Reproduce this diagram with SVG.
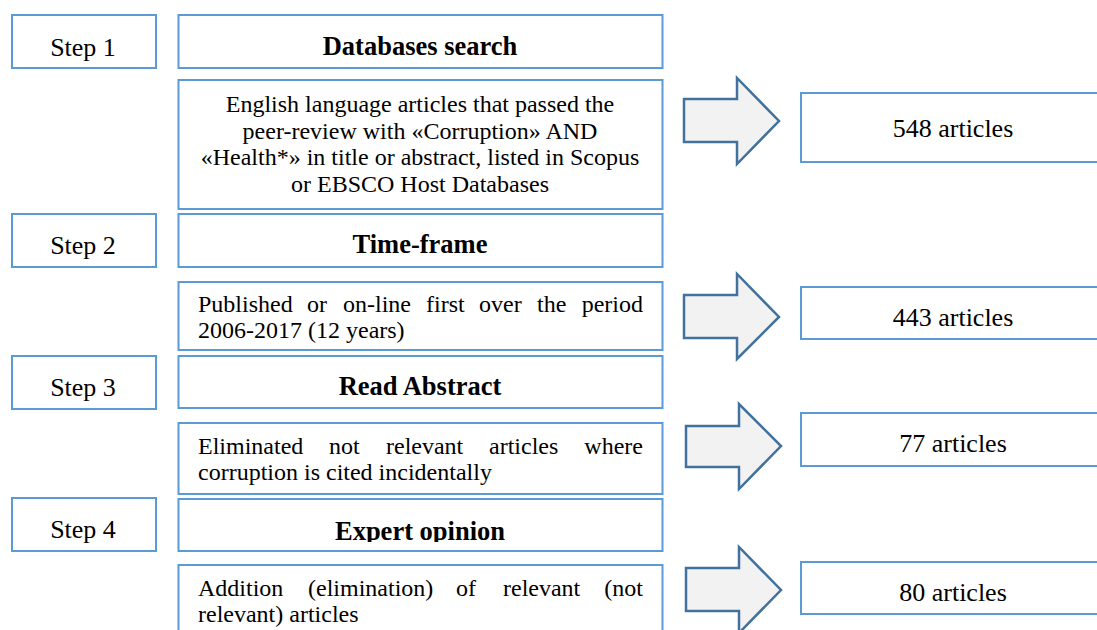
<svg xmlns="http://www.w3.org/2000/svg" width="1097" height="630" viewBox="0 0 1097 630" font-family="Liberation Serif, serif">
<style>
.box{fill:#ffffff;stroke:#5b9bd5;stroke-width:2}
.arr{fill:#f2f2f2;stroke:#41719c;stroke-width:2.5;stroke-linejoin:miter}
text{fill:#000}
.lbl{font-size:26px;text-anchor:middle}
.hd{font-size:26.5px;font-weight:bold;text-anchor:middle}
.bd{font-size:24px}
.c{text-anchor:middle}
.e{text-anchor:end}
.num{font-size:26px;text-anchor:middle}
</style>
<defs>
<clipPath id="clipExp"><rect x="178" y="498" width="484" height="44"/></clipPath>
<clipPath id="clipPub"><rect x="178" y="282" width="484" height="62"/></clipPath>
</defs>
<rect width="1097" height="630" fill="#ffffff"/>

<g id="step1"><rect class="box" x="12" y="15" width="144" height="53"/><text class="lbl" x="83" y="56" font-family="Liberation Serif">Step 1</text></g>
<g id="db-search"><rect class="box" x="178.5" y="15" width="484" height="53"/><text class="hd" x="420" y="55" font-family="Liberation Serif">Databases search</text></g>
<g id="db-desc" font-family="Liberation Serif"><rect class="box" x="178.5" y="80" width="484" height="129"/>
<text class="bd c" x="420" y="112">English language articles that passed the</text>
<text class="bd c" x="420" y="139">peer-review with «Corruption» AND</text>
<text class="bd c" x="420" y="165">«Health*» in title or abstract, listed in Scopus</text>
<text class="bd c" x="420" y="192">or EBSCO Host Databases</text></g>

<g id="step2"><rect class="box" x="12" y="214" width="144" height="53"/><text class="lbl" x="83" y="254" font-family="Liberation Serif">Step 2</text></g>
<g id="time-frame"><rect class="box" x="178.5" y="214" width="484" height="53"/><text class="hd" x="420" y="253" font-family="Liberation Serif">Time-frame</text></g>
<g id="time-desc" font-family="Liberation Serif"><rect class="box" x="178.5" y="282" width="484" height="68"/>
<g clip-path="url(#clipPub)">
<text class="bd" x="198" y="312">Published</text><text class="bd" x="307" y="312">or</text><text class="bd" x="343" y="312">on-line</text><text class="bd" x="426" y="312">first</text><text class="bd" x="479" y="312">over</text><text class="bd" x="537" y="312">the</text><text class="bd e" x="643" y="312">period</text>
<text class="bd" x="198" y="338">2006-2017 (12 years)</text></g></g>

<g id="step3"><rect class="box" x="12" y="356" width="144" height="53"/><text class="lbl" x="83" y="396" font-family="Liberation Serif">Step 3</text></g>
<g id="read-abstract"><rect class="box" x="178.5" y="356" width="484" height="52"/><text class="hd" x="420" y="395" font-family="Liberation Serif">Read Abstract</text></g>
<g id="abstract-desc" font-family="Liberation Serif"><rect class="box" x="178.5" y="423" width="484" height="71"/>
<text class="bd" x="198" y="454">Eliminated</text><text class="bd" x="329" y="454">not</text><text class="bd" x="386" y="454">relevant</text><text class="bd" x="489" y="454">articles</text><text class="bd e" x="643" y="454">where</text>
<text class="bd" x="198" y="480">corruption is cited incidentally</text></g>

<g id="step4"><rect class="box" x="12" y="498" width="144" height="53"/><text class="lbl" x="83" y="538" font-family="Liberation Serif">Step 4</text></g>
<g id="expert"><rect class="box" x="178.5" y="499" width="484" height="52"/><g clip-path="url(#clipExp)"><text class="hd" x="420" y="540" font-family="Liberation Serif">Expert opinion</text></g></g>
<g id="expert-desc" font-family="Liberation Serif"><rect class="box" x="178.5" y="565" width="484" height="80"/>
<text class="bd" x="198" y="596">Addition</text><text class="bd" x="308" y="596">(elimination)</text><text class="bd" x="456" y="596">of</text><text class="bd" x="503" y="596">relevant</text><text class="bd e" x="643" y="596">(not</text>
<text class="bd" x="198" y="622">relevant) articles</text></g>

<g id="res548"><rect class="box" x="801" y="93" width="310" height="69"/><text class="num" x="953" y="137" font-family="Liberation Serif">548 articles</text></g>
<g id="res443"><rect class="box" x="801" y="287" width="310" height="52"/><text class="num" x="953" y="326" font-family="Liberation Serif">443 articles</text></g>
<g id="res77"><rect class="box" x="801" y="413" width="310" height="53"/><text class="num" x="953" y="452" font-family="Liberation Serif">77 articles</text></g>
<g id="res80"><rect class="box" x="801" y="562" width="310" height="52"/><text class="num" x="953" y="601" font-family="Liberation Serif">80 articles</text></g>

<g id="connectors">
<polygon class="arr" points="684,99 737,99 737,78 779,121 737,164 737,142 684,142"/>
<polygon class="arr" points="684,295 737,295 737,274 779,317 737,359 737,338 684,338"/>
<polygon class="arr" points="686,426 739,426 739,404 781,446 739,489 739,467 686,467"/>
<polygon class="arr" points="686,568 739,568 739,547 781,590 739,633 739,611 686,611"/>
</g>
</svg>
